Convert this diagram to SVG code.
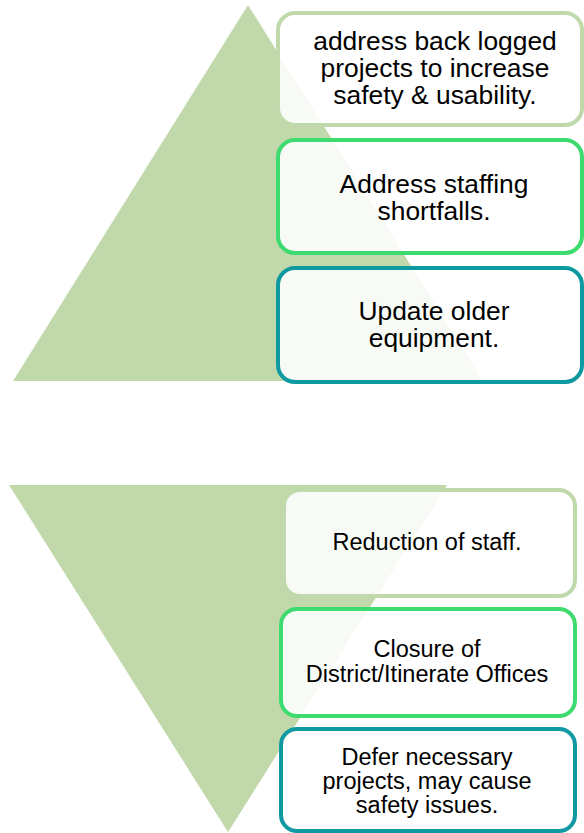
<svg xmlns="http://www.w3.org/2000/svg" width="584" height="833" viewBox="0 0 584 833">
<style>
.box{fill:#ffffff;fill-opacity:0.88;stroke-width:4}
.b1{stroke:#c0d9ab}
.b2{stroke:#3ddb6f}
.b3{stroke:#0e9aa0}
.t1{font-family:"Liberation Sans",Arial,sans-serif;font-size:26.4px;fill:#000;text-anchor:middle}
.t2{font-family:"Liberation Sans",Arial,sans-serif;font-size:23.5px;fill:#000;text-anchor:middle}
.tri{fill:#c0d8aa}
</style>
<rect width="584" height="833" fill="#ffffff"/>
<g id="top-triangle"><polygon class="tri" points="248,5 483,381 13,381"/></g>
<g id="bottom-triangle"><polygon class="tri" points="9,485 447,485 228,832"/></g>
<g id="connectors"></g>
<g id="node-backlog">
<rect class="box b1" x="278" y="13" width="304" height="112" rx="17"/>
<text class="t1" x="435"><tspan x="435" y="50">address back logged</tspan><tspan x="435" y="77">projects to increase</tspan><tspan x="435" y="104">safety &amp; usability.</tspan></text>
</g>
<g id="node-staffing">
<rect class="box b2" x="278" y="140" width="304" height="113" rx="17"/>
<text class="t1" x="434"><tspan x="434" y="193">Address staffing</tspan><tspan x="434" y="220">shortfalls.</tspan></text>
</g>
<g id="node-equipment">
<rect class="box b3" x="278" y="268" width="304" height="114" rx="17"/>
<text class="t1" x="434"><tspan x="434" y="320">Update older</tspan><tspan x="434" y="347">equipment.</tspan></text>
</g>
<g id="node-reduction">
<rect class="box b1" x="284" y="490" width="291" height="106" rx="16"/>
<text class="t2" x="427" y="550">Reduction of staff.</text>
</g>
<g id="node-closure">
<rect class="box b2" x="281" y="609" width="294" height="107" rx="16"/>
<text class="t2" x="427"><tspan x="427" y="657">Closure of</tspan><tspan x="427" y="682">District/Itinerate Offices</tspan></text>
</g>
<g id="node-defer">
<rect class="box b3" x="281" y="729" width="294" height="102" rx="16"/>
<text class="t2" x="427"><tspan x="427" y="765">Defer necessary</tspan><tspan x="427" y="789">projects, may cause</tspan><tspan x="427" y="813">safety issues.</tspan></text>
</g>
</svg>
